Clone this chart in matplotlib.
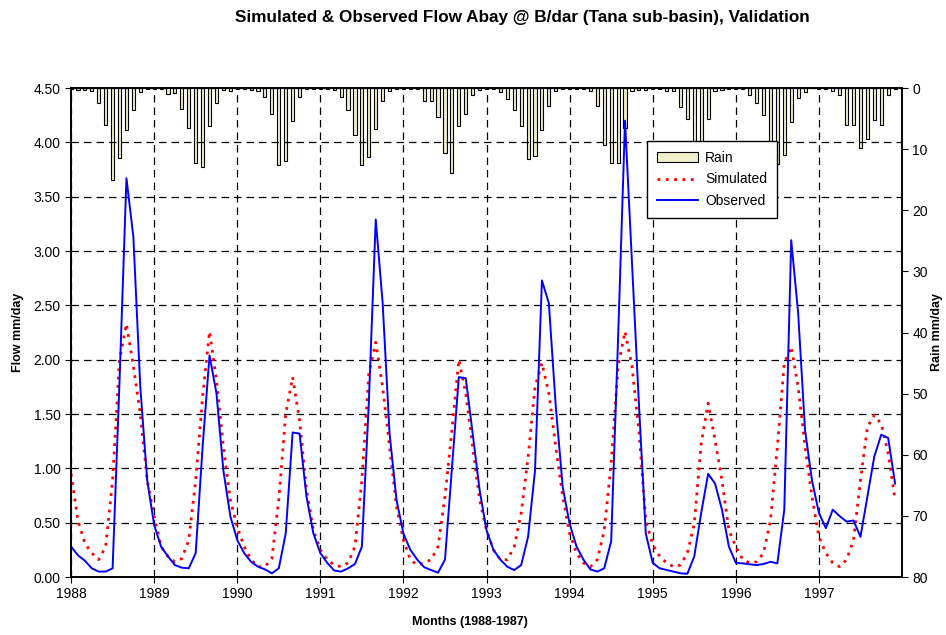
import numpy as np
import matplotlib
matplotlib.use("Agg")
from matplotlib import pyplot as plt

plt.rcParams['font.family'] = ['Liberation Sans', 'DejaVu Sans']

# monthly series, January 1988 .. December 1997
first_year = 1988

rain = [0.2, 0.3, 0.3, 0.4, 2.45, 6.1, 15.0, 11.45, 6.9, 3.65, 0.65, 0.1,
        0.1, 0.1, 0.9, 0.8, 3.4, 6.5, 12.3, 12.9, 6.2, 2.5, 0.3, 0.4,
        0.2, 0.1, 0.3, 0.5, 1.5, 4.25, 12.65, 11.85, 5.45, 1.5, 0.2, 0.1,
        0.1, 0.1, 0.35, 1.45, 3.6, 7.65, 12.65, 11.25, 6.65, 2.1, 0.45, 0.1,
        0.1, 0.1, 0.1, 2.05, 2.05, 4.75, 10.55, 13.9, 6.25, 4.2, 1.2, 0.25,
        0.1, 0.1, 0.65, 1.75, 3.65, 6.15, 11.6, 11.05, 6.9, 2.95, 0.55, 0.1,
        0.1, 0.1, 0.1, 0.5, 2.95, 9.3, 12.3, 12.3, 6.6, 0.45, 0.35, 0.3,
        0.1, 0.1, 0.45, 0.45, 3.15, 5.0, 11.0, 10.5, 5.0, 0.45, 0.3, 0.2,
        0.1, 0.1, 1.2, 2.45, 4.4, 10.5, 12.5, 11.0, 5.5, 1.6, 0.65, 0.0,
        0.1, 0.1, 0.55, 1.1, 6.1, 6.1, 9.8, 8.4, 5.3, 6.1, 1.2, 0.1]

simulated = [0.95, 0.52, 0.31, 0.22, 0.16, 0.28, 0.89, 2.0, 2.33, 1.94, 1.5, 0.89,
             0.56, 0.28, 0.19, 0.14, 0.17, 0.34, 0.89, 1.66, 2.26, 1.81, 1.2, 0.71,
             0.46, 0.28, 0.16, 0.095, 0.095, 0.17, 0.71, 1.5, 1.84, 1.44, 0.8, 0.43,
             0.25, 0.16, 0.11, 0.095, 0.13, 0.28, 0.89, 1.87, 2.16, 1.75, 1.2, 0.65,
             0.34, 0.16, 0.11, 0.13, 0.16, 0.28, 0.74, 1.35, 2.0, 1.69, 1.2, 0.71,
             0.43, 0.25, 0.16, 0.16, 0.28, 0.59, 1.1, 1.75, 1.97, 1.69, 1.2, 0.74,
             0.40, 0.22, 0.13, 0.095, 0.16, 0.43, 1.05, 1.94, 2.26, 1.94, 1.35, 0.52,
             0.3, 0.19, 0.13, 0.095, 0.11, 0.22, 0.49, 1.23, 1.6, 1.26, 0.89, 0.43,
             0.28, 0.16, 0.13, 0.14, 0.22, 0.52, 1.2, 1.97, 2.12, 1.75, 1.2, 0.74,
             0.37, 0.22, 0.13, 0.095, 0.16, 0.34, 0.89, 1.38, 1.49, 1.41, 1.14, 0.71]

observed = [0.28, 0.2, 0.15, 0.08, 0.05, 0.05, 0.08, 1.8, 3.67, 3.13, 1.75, 0.89,
            0.48, 0.28, 0.19, 0.11, 0.086, 0.08, 0.22, 1.2, 2.04, 1.69, 0.98, 0.56,
            0.34, 0.22, 0.14, 0.095, 0.07, 0.034, 0.08, 0.4, 1.33, 1.32, 0.74, 0.40,
            0.22, 0.13, 0.06, 0.05, 0.08, 0.12, 0.28, 1.6, 3.29, 2.52, 1.32, 0.71,
            0.40, 0.25, 0.16, 0.09, 0.064, 0.04, 0.16, 1.0, 1.84, 1.83, 1.32, 0.80,
            0.43, 0.25, 0.16, 0.095, 0.064, 0.11, 0.37, 0.98, 2.73, 2.52, 1.57, 0.83,
            0.49, 0.28, 0.16, 0.07, 0.05, 0.08, 0.33, 2.2, 4.2, 2.9, 1.6, 0.40,
            0.13, 0.08, 0.065, 0.05, 0.034, 0.03, 0.19, 0.59, 0.95, 0.86, 0.62, 0.28,
            0.13, 0.126, 0.117, 0.11, 0.12, 0.14, 0.126, 0.62, 3.10, 2.43, 1.35, 0.89,
            0.59, 0.45, 0.62, 0.56, 0.51, 0.52, 0.37, 0.74, 1.11, 1.31, 1.28, 0.86]

years = list(range(1988, 1998))

t = first_year + np.arange(len(observed)) / 12.0

fig = plt.figure(figsize=(9.46, 6.35), dpi=100)
ax = fig.add_axes([0.0751, 0.0913, 0.8784, 0.770])
ax2 = ax.twinx()

bars = ax2.bar(t, rain, width=0.45 / 12, color='#efefc8', edgecolor='black',
               linewidth=0.8, label='Rain')
ax2.set_ylim(80, 0)
ax2.set_yticks(range(0, 81, 10))

ax.set_zorder(ax2.get_zorder() + 1)
ax.patch.set_visible(False)
sim_line, = ax.plot(t, simulated, color='red', linestyle=(0, (1, 2)), linewidth=2,
                    label='Simulated')
obs_line, = ax.plot(t, observed, color='blue', linewidth=1.4, label='Observed')

ax.set_xlim(first_year, 1998)
ax.set_ylim(0, 4.5)
ax.set_yticks(np.arange(0, 4.51, 0.5))
ax.set_yticklabels(['%.2f' % v for v in np.arange(0, 4.51, 0.5)])
ax.set_xticks(years)
ax.set_xticklabels([str(y) for y in years])
ax.grid(True, color='black', linestyle=(0, (6, 4)), linewidth=0.9)

for a in (ax, ax2):
    a.tick_params(labelsize=10, direction='out', length=4)
    for s in a.spines.values():
        s.set_linewidth(1.2)

fig.text(0.552, 0.9717, 'Simulated & Observed Flow Abay @ B/dar (Tana sub-basin), Validation',
         ha='center', va='center', fontsize=12.3, fontweight='bold')
fig.text(0.019, 0.477, 'Flow mm/day', rotation=90, ha='center', va='center',
         fontsize=9, fontweight='bold')
fig.text(0.990, 0.477, 'Rain mm/day', rotation=90, ha='center', va='center',
         fontsize=9, fontweight='bold')
fig.text(0.497, 0.0205, 'Months (1988-1987)', ha='center', va='center',
         fontsize=9, fontweight='bold')

leg = ax.legend([bars, sim_line, obs_line], ['Rain', 'Simulated', 'Observed'],
                loc='upper left', bbox_to_anchor=(0.693, 0.8916), borderaxespad=0,
                fontsize=10, fancybox=False, framealpha=1, edgecolor='black',
                borderpad=0.7, labelspacing=0.55, handlelength=3.0,
                handletextpad=0.5)
leg.get_frame().set_linewidth(1.0)

fig.savefig('out.png', dpi=100)
